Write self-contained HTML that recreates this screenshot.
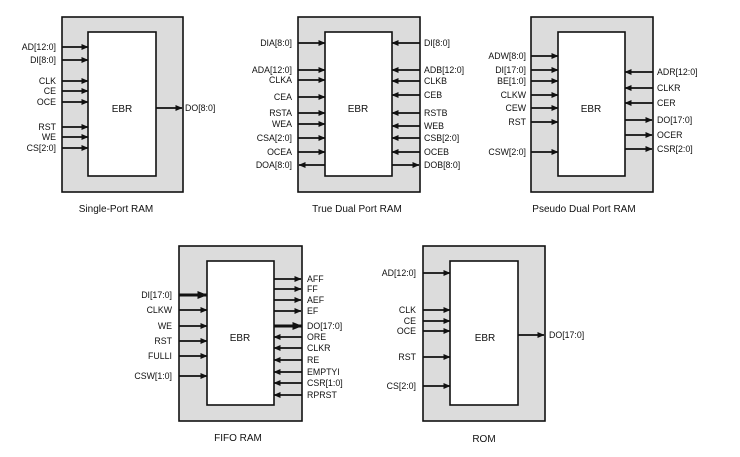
<!DOCTYPE html>
<html><head><style>
html,body{margin:0;padding:0;background:#fff;}
svg{display:block;}
text{font-family:"Liberation Sans",sans-serif;font-size:8.8px;fill:#111;}
.t{font-size:10px;}
.g{fill:#dcdcdc;stroke:#111;stroke-width:1.6;}
.w{fill:#fff;stroke:#111;stroke-width:1.6;}
line{stroke:#111;stroke-width:1.8;}
.th{stroke-width:3;}
</style></head><body>
<svg width="740" height="457" viewBox="0 0 740 457" xmlns="http://www.w3.org/2000/svg">
<defs>
<marker id="a" markerWidth="7" markerHeight="7" refX="6.5" refY="3.5" orient="auto" markerUnits="userSpaceOnUse"><path d="M0,0.5 L7,3.5 L0,6.5z" fill="#111"/></marker>
<marker id="b" markerWidth="10" markerHeight="8" refX="9.5" refY="4" orient="auto" markerUnits="userSpaceOnUse"><path d="M0,0 L10,4 L0,8z" fill="#111"/></marker>
</defs>

<!-- Single-Port RAM -->
<rect class="g" x="62" y="17" width="121" height="175"/>
<rect class="w" x="88" y="32" width="68" height="144"/>
<text x="122" y="112" text-anchor="middle" class="t">EBR</text>
<g marker-end="url(#a)">
<line x1="62" y1="47" x2="88" y2="47"/><line x1="62" y1="60" x2="88" y2="60"/>
<line x1="62" y1="81" x2="88" y2="81"/><line x1="62" y1="91" x2="88" y2="91"/>
<line x1="62" y1="102" x2="88" y2="102"/><line x1="62" y1="127" x2="88" y2="127"/>
<line x1="62" y1="137" x2="88" y2="137"/><line x1="62" y1="148" x2="88" y2="148"/>
<line x1="156" y1="108" x2="182" y2="108"/>
</g>
<g text-anchor="end">
<text x="56" y="50">AD[12:0]</text><text x="56" y="63">DI[8:0]</text>
<text x="56" y="84">CLK</text><text x="56" y="94">CE</text><text x="56" y="105">OCE</text>
<text x="56" y="130">RST</text><text x="56" y="140">WE</text><text x="56" y="151">CS[2:0]</text>
</g>
<text x="185" y="111">DO[8:0]</text>
<text x="116" y="212" text-anchor="middle" class="t">Single-Port RAM</text>

<!-- True Dual Port RAM -->
<rect class="g" x="298" y="17" width="122" height="175"/>
<rect class="w" x="325" y="32" width="67" height="144"/>
<text x="358" y="112" text-anchor="middle" class="t">EBR</text>
<g marker-end="url(#a)">
<line x1="298" y1="43" x2="325" y2="43"/><line x1="298" y1="70" x2="325" y2="70"/>
<line x1="298" y1="80" x2="325" y2="80"/><line x1="298" y1="97" x2="325" y2="97"/>
<line x1="298" y1="113" x2="325" y2="113"/><line x1="298" y1="124" x2="325" y2="124"/>
<line x1="298" y1="138" x2="325" y2="138"/><line x1="298" y1="152" x2="325" y2="152"/>
<line x1="325" y1="165" x2="299" y2="165"/>
<line x1="420" y1="43" x2="392" y2="43"/><line x1="420" y1="70" x2="392" y2="70"/>
<line x1="420" y1="81" x2="392" y2="81"/><line x1="420" y1="95" x2="392" y2="95"/>
<line x1="420" y1="113" x2="392" y2="113"/><line x1="420" y1="126" x2="392" y2="126"/>
<line x1="420" y1="138" x2="392" y2="138"/><line x1="420" y1="152" x2="392" y2="152"/>
<line x1="392" y1="165" x2="419" y2="165"/>
</g>
<g text-anchor="end">
<text x="292" y="46">DIA[8:0]</text><text x="292" y="73">ADA[12:0]</text>
<text x="292" y="83">CLKA</text><text x="292" y="100">CEA</text>
<text x="292" y="116">RSTA</text><text x="292" y="127">WEA</text>
<text x="292" y="141">CSA[2:0]</text><text x="292" y="155">OCEA</text>
<text x="292" y="168">DOA[8:0]</text>
</g>
<text x="424" y="46">DI[8:0]</text><text x="424" y="73">ADB[12:0]</text>
<text x="424" y="84">CLKB</text><text x="424" y="98">CEB</text>
<text x="424" y="116">RSTB</text><text x="424" y="129">WEB</text>
<text x="424" y="141">CSB[2:0]</text><text x="424" y="155">OCEB</text>
<text x="424" y="168">DOB[8:0]</text>
<text x="357" y="212" text-anchor="middle" class="t">True Dual Port RAM</text>

<!-- Pseudo Dual Port RAM -->
<rect class="g" x="531" y="17" width="122" height="175"/>
<rect class="w" x="558" y="32" width="67" height="144"/>
<text x="591" y="112" text-anchor="middle" class="t">EBR</text>
<g marker-end="url(#a)">
<line x1="531" y1="56" x2="558" y2="56"/><line x1="531" y1="70" x2="558" y2="70"/>
<line x1="531" y1="81" x2="558" y2="81"/><line x1="531" y1="95" x2="558" y2="95"/>
<line x1="531" y1="108" x2="558" y2="108"/><line x1="531" y1="122" x2="558" y2="122"/>
<line x1="531" y1="152" x2="558" y2="152"/>
<line x1="653" y1="72" x2="625" y2="72"/><line x1="653" y1="88" x2="625" y2="88"/>
<line x1="653" y1="103" x2="625" y2="103"/>
<line x1="625" y1="120" x2="652" y2="120"/><line x1="625" y1="135" x2="652" y2="135"/>
<line x1="625" y1="149" x2="652" y2="149"/>
</g>
<g text-anchor="end">
<text x="526" y="59">ADW[8:0]</text><text x="526" y="73">DI[17:0]</text>
<text x="526" y="84">BE[1:0]</text><text x="526" y="98">CLKW</text>
<text x="526" y="111">CEW</text><text x="526" y="125">RST</text>
<text x="526" y="155">CSW[2:0]</text>
</g>
<text x="657" y="75">ADR[12:0]</text><text x="657" y="91">CLKR</text>
<text x="657" y="106">CER</text><text x="657" y="123">DO[17:0]</text>
<text x="657" y="138">OCER</text><text x="657" y="152">CSR[2:0]</text>
<text x="584" y="212" text-anchor="middle" class="t">Pseudo Dual Port RAM</text>

<!-- FIFO RAM -->
<rect class="g" x="179" y="246" width="123" height="175"/>
<rect class="w" x="207" y="261" width="67" height="144"/>
<text x="240" y="341" text-anchor="middle" class="t">EBR</text>
<line class="th" x1="179" y1="295" x2="207" y2="295" marker-end="url(#b)"/>
<line class="th" x1="274" y1="326" x2="302" y2="326" marker-end="url(#b)"/>
<g marker-end="url(#a)">
<line x1="179" y1="310" x2="207" y2="310"/><line x1="179" y1="326" x2="207" y2="326"/>
<line x1="179" y1="341" x2="207" y2="341"/><line x1="179" y1="356" x2="207" y2="356"/>
<line x1="179" y1="376" x2="207" y2="376"/>
<line x1="274" y1="279" x2="301" y2="279"/><line x1="274" y1="289" x2="301" y2="289"/>
<line x1="274" y1="300" x2="301" y2="300"/><line x1="274" y1="311" x2="301" y2="311"/>
<line x1="302" y1="337" x2="274" y2="337"/><line x1="302" y1="348" x2="274" y2="348"/>
<line x1="302" y1="360" x2="274" y2="360"/><line x1="302" y1="372" x2="274" y2="372"/>
<line x1="302" y1="383" x2="274" y2="383"/><line x1="302" y1="395" x2="274" y2="395"/>
</g>
<g text-anchor="end">
<text x="172" y="298">DI[17:0]</text><text x="172" y="313">CLKW</text>
<text x="172" y="329">WE</text><text x="172" y="344">RST</text>
<text x="172" y="359">FULLI</text><text x="172" y="379">CSW[1:0]</text>
</g>
<text x="307" y="282">AFF</text><text x="307" y="292">FF</text>
<text x="307" y="303">AEF</text><text x="307" y="314">EF</text>
<text x="307" y="329">DO[17:0]</text><text x="307" y="340">ORE</text>
<text x="307" y="351">CLKR</text><text x="307" y="363">RE</text>
<text x="307" y="375">EMPTYI</text><text x="307" y="386">CSR[1:0]</text>
<text x="307" y="398">RPRST</text>
<text x="238" y="441" text-anchor="middle" class="t">FIFO RAM</text>

<!-- ROM -->
<rect class="g" x="423" y="246" width="122" height="175"/>
<rect class="w" x="450" y="261" width="68" height="144"/>
<text x="485" y="341" text-anchor="middle" class="t">EBR</text>
<g marker-end="url(#a)">
<line x1="423" y1="273" x2="450" y2="273"/><line x1="423" y1="310" x2="450" y2="310"/>
<line x1="423" y1="321" x2="450" y2="321"/><line x1="423" y1="331" x2="450" y2="331"/>
<line x1="423" y1="357" x2="450" y2="357"/><line x1="423" y1="386" x2="450" y2="386"/>
<line x1="518" y1="335" x2="544" y2="335"/>
</g>
<g text-anchor="end">
<text x="416" y="276">AD[12:0]</text><text x="416" y="313">CLK</text>
<text x="416" y="324">CE</text><text x="416" y="334">OCE</text>
<text x="416" y="360">RST</text><text x="416" y="389">CS[2:0]</text>
</g>
<text x="549" y="338">DO[17:0]</text>
<text x="484" y="442" text-anchor="middle" class="t">ROM</text>
</svg>
</body></html>
